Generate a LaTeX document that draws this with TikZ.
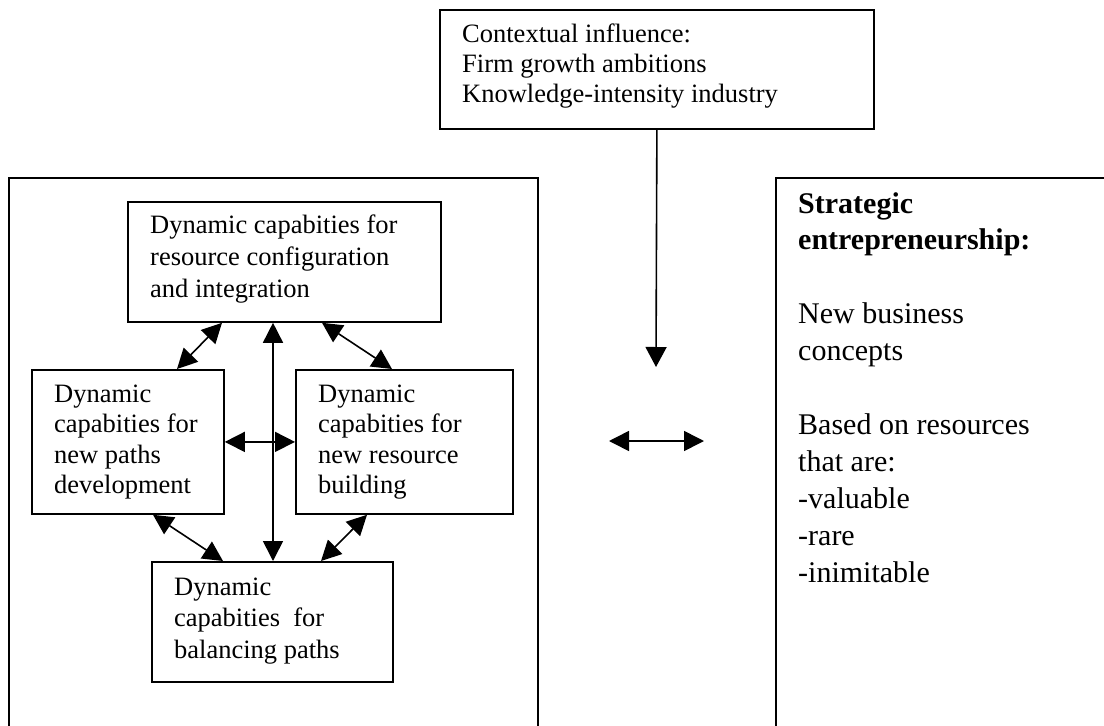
\documentclass[tikz,border=0pt]{standalone}
\usepackage{fontspec}
\setmainfont{Liberation Serif}
\usetikzlibrary{arrows.meta}
\begin{document}
\begin{tikzpicture}[x=1pt,y=-1pt,
  box/.style={draw, line width=1.8pt, inner sep=0pt, anchor=north west},
  txt/.style={anchor=base west, inner sep=0pt, font=\fontsize{26.5}{30.5}\selectfont},
  con/.style={line width=1.6pt, {Triangle[length=20pt,width=20pt]}-{Triangle[length=20pt,width=20pt]}},
  one/.style={line width=1.6pt, -{Triangle[length=20pt,width=21pt]}}]
\useasboundingbox (0,0) rectangle (1104,726);
\clip (0,0) rectangle (1104,726);
% boxes
\node[box, minimum width=529pt, minimum height=600pt] (outerL) at (8,177) {};
\node[box, minimum width=400pt, minimum height=600pt] (outerR) at (775,177) {};
\node[box, minimum width=434pt, minimum height=119pt] (ctx) at (439,9) {};
\node[box, minimum width=313pt, minimum height=120pt] (cfg) at (127,201) {};
\node[box, minimum width=192pt, minimum height=144pt] (paths) at (31,369) {};
\node[box, minimum width=217pt, minimum height=144pt] (build) at (295,369) {};
\node[box, minimum width=241pt, minimum height=120pt] (bal) at (151,561) {};
% texts
\node[txt, font=\fontsize{26.5}{30}\selectfont] (ctxT) at (462,42)
  {\parbox[t]{400pt}{Contextual influence:\\Firm growth ambitions\\Knowledge-intensity industry}};
\node[txt, font=\fontsize{26.5}{32}\selectfont] (cfgT) at (150,233)
  {\parbox[t]{300pt}{Dynamic capabities for\\resource configuration\\and integration}};
\node[txt] (pathsT) at (54,402)
  {\parbox[t]{200pt}{Dynamic\\capabities for\\new paths\\development}};
\node[txt] (buildT) at (318,402)
  {\parbox[t]{200pt}{Dynamic\\capabities for\\new resource\\building}};
\node[txt, font=\fontsize{26.5}{31.5}\selectfont] (balT) at (174,595)
  {\parbox[t]{220pt}{Dynamic\\capabities\ \ for\\balancing paths}};
\node[txt, font=\fontsize{30}{36.9}\selectfont] (seT) at (798,213)
  {\parbox[t]{300pt}{\textbf{Strategic}\\\textbf{entrepreneurship:}\\\mbox{}\\New business\\concepts\\\mbox{}\\Based on resources\\that are:\\-valuable\\-rare\\-inimitable}};
% connectors
\coordinate (ctxEnd) at (656,367);
\draw[one] (ctx.south) -- (ctxEnd);
\coordinate (hL) at (609,441);
\coordinate (hR) at (704,441);
\draw[con] (hL) -- (hR);
\draw[con] ([xshift=95pt]cfg.south west) -- ([xshift=146pt]paths.north west);
\draw[con] ([xshift=195pt]cfg.south west) -- ([xshift=97pt]build.north west);
\draw[con] ([xshift=122pt]paths.south west) -- ([xshift=72pt]bal.north west);
\draw[con] ([xshift=72pt]build.south west) -- ([xshift=170pt]bal.north west);
\draw[con] ([xshift=146pt]cfg.south west) -- ([xshift=122pt]bal.north west);
\draw[con] (paths.east) -- (build.west);
\end{tikzpicture}
\end{document}
